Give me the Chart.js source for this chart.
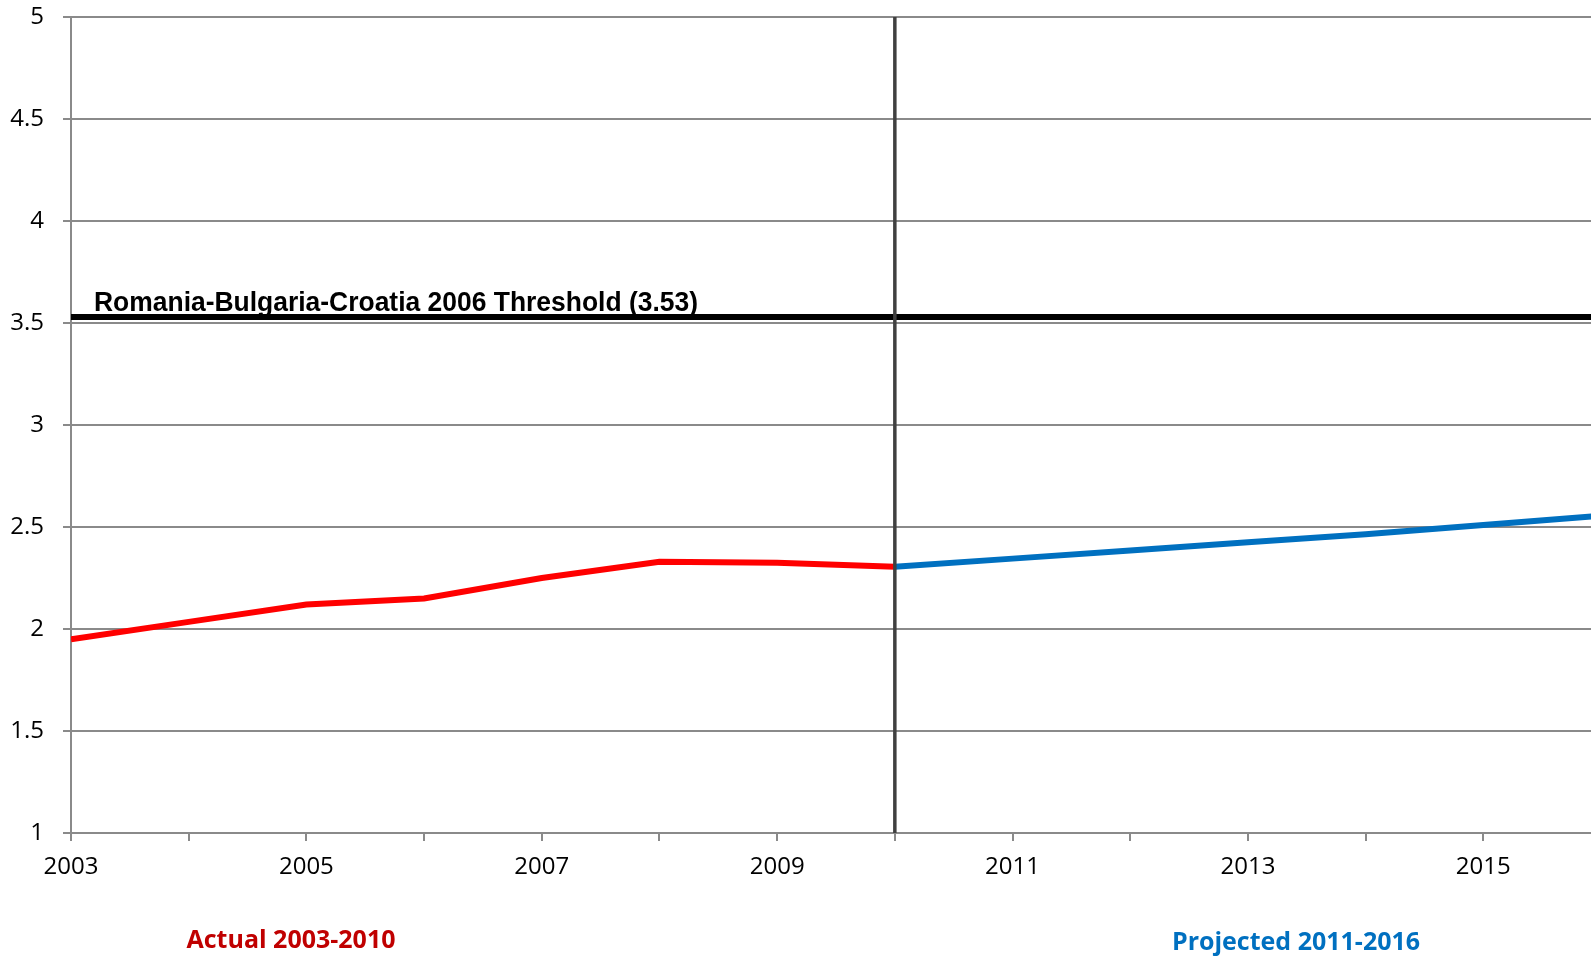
<!DOCTYPE html>
<html lang="en">
<head>
    <meta charset="UTF-8">
    <title>Threshold chart</title>
    <style>
        body {
            margin: 0;
            overflow: hidden;
            background: #fff;
        }
        #wrap {
            position: absolute;
            left: 0;
            top: 0;
            width: 1601px;
            height: 958px;
        }
    </style>
    <script src="https://cdn.jsdelivr.net/npm/chart.js"></script>
</head>
<body>

<div id="wrap"><canvas id="chart"></canvas></div>

<script>
// data
const actualYears = [2003, 2004, 2005, 2006, 2007, 2008, 2009, 2010];
const actualValues = [1.95, 2.035, 2.12, 2.15, 2.25, 2.33, 2.325, 2.305];
const projectedYears = [2010, 2011, 2012, 2013, 2014, 2015, 2016];
const projectedValues = [2.305, 2.345, 2.385, 2.425, 2.465, 2.51, 2.555];
const thresholdValue = 3.53;
const thresholdLabel = "Romania-Bulgaria-Croatia 2006 Threshold (3.53)";
const splitYear = 2010;
const actualLabel = "Actual 2003-2010";
const projectedLabel = "Projected 2011-2016";

const gridColor = "#8a8a8a";
const tickFont = { family: "'Open Sans', 'Liberation Sans', sans-serif", size: 24 };

function toPoints(xs, ys) {
    return xs.map((x, i) => ({ x: x, y: ys[i] }));
}

const labelsPlugin = {
    id: "labels",
    afterDatasetsDraw(chart) {
        const ctx = chart.ctx;
        const xs = chart.scales.x;
        const ys = chart.scales.y;
        ctx.save();
        ctx.fillStyle = "#000";
        ctx.font = "bold 27px 'Liberation Sans', Arial, sans-serif";
        ctx.textAlign = "left";
        ctx.textBaseline = "alphabetic";
        // the original label is set in a narrow face, squeeze it to the same width
        const w = ctx.measureText(thresholdLabel).width;
        ctx.translate(xs.left + 23, ys.getPixelForValue(thresholdValue) - 6);
        ctx.scale(604 / w, 1);
        ctx.fillText(thresholdLabel, 0, 0);
        ctx.restore();

        ctx.save();
        ctx.font = "bold 25px 'Open Sans', sans-serif";
        ctx.textAlign = "center";
        ctx.fillStyle = "#c00000";
        ctx.fillText(actualLabel, 291, 948);
        ctx.fillStyle = "#0070c0";
        ctx.fillText(projectedLabel, 1296, 950);
        ctx.restore();
    }
};

new Chart(document.getElementById("chart").getContext("2d"), {
    type: "line",
    data: {
        datasets: [
            {
                label: "split",
                data: [{ x: splitYear, y: 1 }, { x: splitYear, y: 5 }],
                borderColor: "#404040",
                borderWidth: 3.5,
                pointRadius: 0
            },
            {
                label: "threshold",
                data: [{ x: 2003, y: thresholdValue }, { x: 2016, y: thresholdValue }],
                borderColor: "#000",
                borderWidth: 6,
                pointRadius: 0
            },
            {
                label: actualLabel,
                data: toPoints(actualYears, actualValues),
                borderColor: "#ff0000",
                borderWidth: 6,
                pointRadius: 0,
                tension: 0
            },
            {
                label: projectedLabel,
                data: toPoints(projectedYears, projectedValues),
                borderColor: "#0070c0",
                borderWidth: 6,
                pointRadius: 0,
                tension: 0
            }
        ]
    },
    options: {
        responsive: true,
        maintainAspectRatio: false,
        animation: false,
        layout: { padding: { top: 17, right: 0, bottom: 0, left: 0 } },
        plugins: { legend: { display: false }, tooltip: { enabled: false } },
        scales: {
            x: {
                type: "linear",
                min: 2003,
                max: 2016,
                afterFit: s => { s.height = 125; s.paddingLeft = 0; s.paddingRight = 0; },
                grid: { drawOnChartArea: false, drawTicks: true, tickLength: 8, color: gridColor, lineWidth: 2 },
                border: { color: gridColor, width: 2 },
                ticks: {
                    stepSize: 1,
                    autoSkip: false,
                    maxRotation: 0,
                    padding: 12,
                    color: "#000",
                    font: tickFont,
                    callback: v => ((v - 2003) % 2 === 0 ? String(v) : "")
                }
            },
            y: {
                min: 1,
                max: 5,
                afterFit: s => { s.width = 71; s.paddingTop = 0; s.paddingBottom = 0; },
                grid: { color: gridColor, lineWidth: 2, tickLength: 8 },
                border: { color: gridColor, width: 2 },
                ticks: {
                    stepSize: 0.5,
                    padding: 19,
                    color: "#000",
                    font: tickFont,
                    callback: v => String(v)
                }
            }
        }
    },
    plugins: [labelsPlugin]
});
</script>

</body>
</html>
